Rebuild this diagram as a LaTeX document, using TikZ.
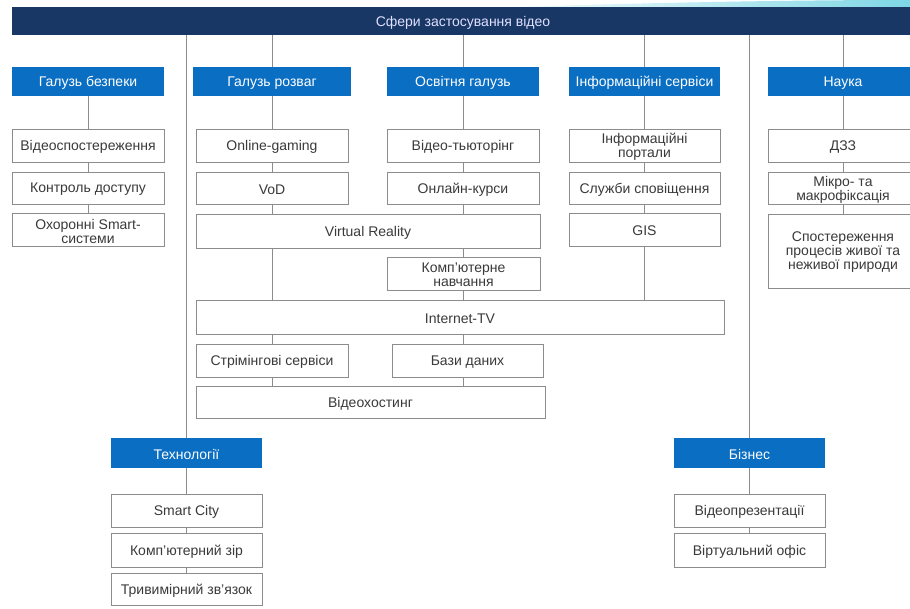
\documentclass[tikz,border=0pt]{standalone}
\usepackage{fontspec}
\setmainfont{Liberation Sans}
\usetikzlibrary{calc}
\definecolor{navy}{HTML}{193765}
\definecolor{catblue}{HTML}{0A6EC2}
\definecolor{boxgray}{HTML}{8C8C8C}
\definecolor{linegray}{HTML}{8C8C8C}
\definecolor{txtgray}{HTML}{3A3A3A}
\definecolor{swoosh}{HTML}{7ED6E4}
\tikzset{
  base/.style={inner sep=0pt, outer sep=0pt},
  lbl/.style={inner sep=0pt, outer sep=0pt, align=center, font=\fontsize{14}{14}\selectfont},
  barbox/.style={base, fill=navy},
  bartext/.style={lbl, text=white!88!blue},
  catbox/.style={base, fill=catblue},
  cattext/.style={lbl, text=white},
  itembox/.style={base, draw=boxgray, line width=0.9pt, fill=white},
  itemtext/.style={lbl, text=txtgray},
  link/.style={draw=linegray, line width=0.9pt},
}
% #1 name, #2 x1, #3 y1, #4 x2, #5 y2, #6 kind (bar/cat/item), #7 text
\newcommand{\mybox}[7]{%
  \node[#6box, minimum width={#4pt-#2pt}, minimum height={#5pt-#3pt}] (#1) at ({(#2+#4)/2},{(#3+#5)/2}) {};
  \node[#6text] (#1t) at ([yshift=-1.5pt]#1.center) {#7};}
\begin{document}
\begin{tikzpicture}[x=1pt,y=-1pt]
\useasboundingbox (0,0) rectangle (910,608);
\clip (0,0) rectangle (910,608);
\fill[white] (0,0) rectangle (910,608);
\shade[left color=white, right color=swoosh] (480,8) .. controls (640,3) and (780,0) .. (910,0) -- (910,8) -- cycle;
% top bar
\mybox{bar}{12}{7}{914}{35}{bar}{Сфери застосування відео}
% categories
\mybox{bez}{12}{67}{164}{96}{cat}{Галузь безпеки}
\mybox{roz}{193}{67}{351}{96}{cat}{Галузь розваг}
\mybox{osv}{387}{67}{539}{96}{cat}{Освітня галузь}
\mybox{inf}{569}{67}{720}{96}{cat}{Інформаційні сервіси}
\mybox{nau}{768}{67}{918}{96}{cat}{Наука}
\mybox{tech}{111}{438}{262}{468}{cat}{Технології}
\mybox{biz}{674}{438}{825}{468}{cat}{Бізнес}
% items
\mybox{b1}{12}{129}{164}{162}{item}{Відеоспостереження}
\mybox{b2}{12}{172}{164}{204}{item}{Контроль доступу}
\mybox{b3}{12}{213}{164}{246}{item}{Охоронні Smart-\\системи}
\mybox{r1}{196}{129}{348}{162}{item}{Online-gaming}
\mybox{r2}{196}{172}{348}{204}{item}{VoD}
\mybox{vr}{196}{214}{540}{248}{item}{Virtual Reality}
\mybox{o1}{387}{129}{539}{162}{item}{Відео-тьюторінг}
\mybox{o2}{387}{172}{539}{204}{item}{Онлайн-курси}
\mybox{o3}{387}{257}{540}{290}{item}{Комп’ютерне\\навчання}
\mybox{i1}{569}{129}{720}{162}{item}{Інформаційні\\портали}
\mybox{i2}{569}{172}{720}{204}{item}{Служби сповіщення}
\mybox{i3}{569}{213}{720}{246}{item}{GIS}
\mybox{itv}{196}{300}{724}{334}{item}{Internet-TV}
\mybox{st}{196}{344}{348}{377}{item}{Стрімінгові сервіси}
\mybox{db}{392}{344}{543}{377}{item}{Бази даних}
\mybox{vh}{196}{386}{545}{418}{item}{Відеохостинг}
\mybox{t1}{111}{494}{262}{527}{item}{Smart City}
\mybox{t2}{111}{533}{262}{567}{item}{Комп’ютерний зір}
\mybox{t3}{111}{573}{262}{605}{item}{Тривимірний зв’язок}
\mybox{z1}{674}{494}{825}{527}{item}{Відеопрезентації}
\mybox{z2}{674}{533}{825}{567}{item}{Віртуальний офіс}
\mybox{n1}{768}{129}{918}{162}{item}{ДЗЗ}
\mybox{n2}{768}{172}{918}{204}{item}{Мікро- та\\макрофіксація}
\mybox{n3}{768}{214}{918}{288}{item}{\fontsize{14}{17.5}\selectfont Спостереження\\процесів живої та\\неживої природи}
% links
% security
\draw[link] (bez.south) -- (b1.north);
\draw[link] (b1.south) -- (b2.north);
\draw[link] (b2.south) -- (b3.north);
% technologies
\draw[link] (bar.south -| tech.north) -- (tech.north);
\draw[link] (tech.south) -- (t1.north);
\draw[link] (t1.south) -- (t2.north);
\draw[link] (t2.south) -- (t3.north);
% entertainment
\draw[link] (bar.south -| roz.north) -- (roz.north);
\draw[link] (roz.south) -- (r1.north);
\draw[link] (r1.south) -- (r2.north);
\draw[link] (r2.south) -- (vr.north -| r2.south);
\draw[link] (vr.south -| r2.south) -- (itv.north -| r2.south);
\draw[link] (itv.south -| st.north) -- (st.north);
\draw[link] (st.south) -- (vh.north -| st.south);
% education
\draw[link] (bar.south -| osv.north) -- (osv.north);
\draw[link] (osv.south) -- (o1.north);
\draw[link] (o1.south) -- (o2.north);
\draw[link] (o2.south) -- (vr.north -| o2.south);
\draw[link] (vr.south -| o3.north) -- (o3.north);
\draw[link] (o3.south) -- (itv.north -| o3.south);
\draw[link] (itv.south -| o3.south) -- (db.north -| o3.south);
\draw[link] (db.south -| o3.south) -- (vh.north -| o3.south);
% information services
\draw[link] (bar.south -| inf.north) -- (inf.north);
\draw[link] (inf.south) -- (i1.north);
\draw[link] (i1.south) -- (i2.north);
\draw[link] (i2.south) -- (i3.north);
\draw[link] (i3.south) -- (itv.north -| i3.south);
% business
\draw[link] (bar.south -| biz.north) -- (biz.north);
\draw[link] (biz.south) -- (z1.north);
\draw[link] (z1.south) -- (z2.north);
% science
\draw[link] (bar.south -| nau.north) -- (nau.north);
\draw[link] (nau.south) -- (n1.north);
\draw[link] (n1.south) -- (n2.north);
\draw[link] (n2.south) -- (n3.north);
\end{tikzpicture}
\end{document}
